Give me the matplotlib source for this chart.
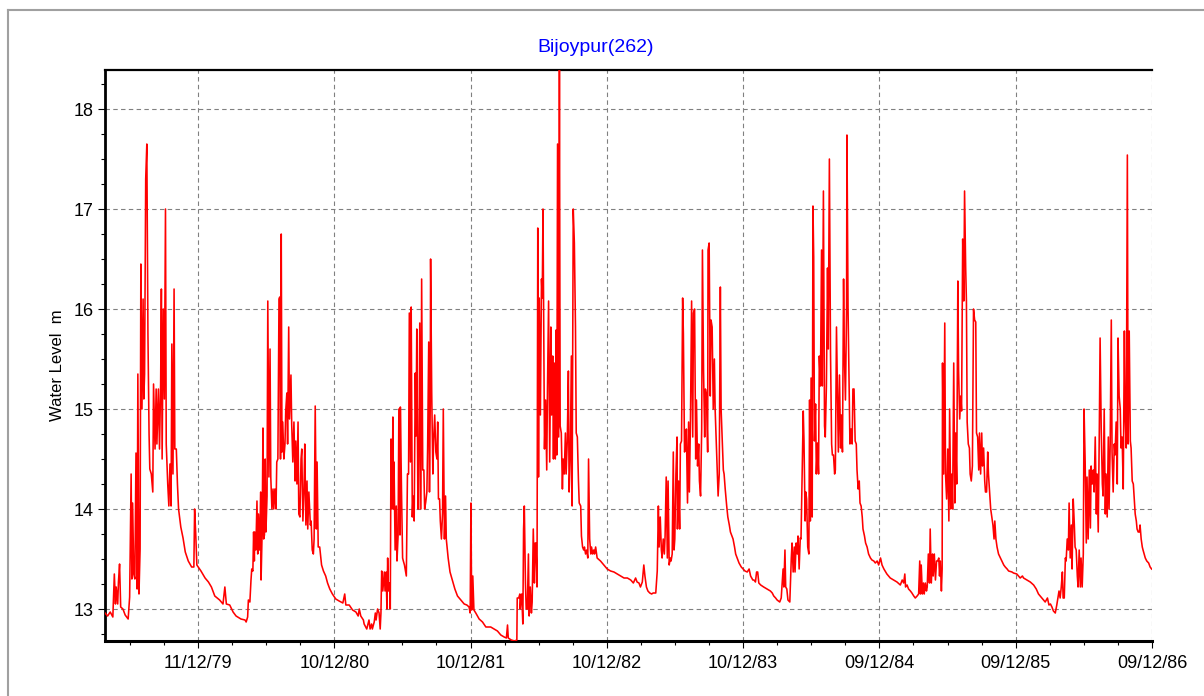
#!/usr/bin/env python3

# Water level hydrograph for station Bijoypur(262), 1979 - 1986.

import matplotlib
matplotlib.use('Agg')

import matplotlib.dates
import matplotlib.lines
import matplotlib.pyplot
import matplotlib.ticker
import numpy

TITLE = 'Bijoypur(262)'
Y_LABEL = 'Water Level  m'
START_DATE = '1979-04-06'

SEASON_1979 = [
    (0, 12.96), (7, 12.93), (14, 12.97), (21, 12.92), (25, 13.35), (28, 13.05), (30, 13.22), (34, 13.05),
    (36, 13.27), (39, 13.45), (42, 13.02), (48, 13.0), (54, 12.94), (62, 12.9), (66, 13.12), (70, 14.35),
    (72, 13.3), (74, 14.06), (77, 13.35), (80, 13.3), (83, 14.56), (86, 13.2), (88, 15.35), (91, 13.15),
    (94, 13.6), (96, 16.45), (99, 15.0), (102, 16.1), (104, 15.1), (106, 15.35), (109, 17.3), (112, 17.65),
    (115, 15.75), (118, 14.75), (120, 14.4), (124, 14.35), (128, 14.17), (130, 15.25), (134, 14.6), (137, 15.2),
    (139, 14.65), (143, 15.2), (146, 14.6), (149, 15.25), (151, 16.2), (153, 14.5), (156, 16.0), (159, 15.1),
    (162, 17.0), (164, 14.65), (168, 14.25), (171, 14.03), (174, 14.45), (177, 14.03), (179, 15.65), (182, 14.35),
    (185, 16.2), (187, 14.6), (191, 14.6), (194, 14.25), (197, 14.0), (203, 13.82), (209, 13.71), (215, 13.57),
    (223, 13.48), (232, 13.42), (238, 13.42), (240, 14.0), (243, 13.75), (246, 13.44), (257, 13.38), (268, 13.31),
    (277, 13.27), (285, 13.22), (294, 13.13), (307, 13.09), (316, 13.05), (321, 13.22), (325, 13.05), (334, 13.04),
    (343, 12.97),
]

SEASON_1980 = [
    (351, 12.93), (364, 12.9), (375, 12.89), (378, 12.87), (382, 12.92), (384, 13.09), (388, 13.07), (391, 13.29),
    (393, 13.4), (396, 13.38), (398, 13.77), (400, 13.48), (401, 13.77), (404, 13.59), (407, 14.08), (409, 13.55),
    (411, 13.95), (414, 13.59), (417, 14.17), (418, 13.29), (421, 13.8), (423, 14.81), (425, 13.7), (427, 13.74),
    (429, 14.5), (431, 13.77), (434, 14.13), (436, 16.08), (439, 14.32), (442, 15.6), (444, 14.32), (447, 14.0),
    (450, 14.2), (452, 14.0), (455, 14.2), (458, 14.0), (460, 14.47), (463, 14.5), (466, 16.1), (468, 16.12),
    (470, 14.5), (472, 16.75), (474, 14.57), (476, 14.87), (479, 14.5), (482, 14.65), (484, 14.98), (487, 15.16),
    (489, 14.65), (492, 15.82), (494, 14.9), (498, 15.34), (500, 14.85), (503, 14.47), (506, 14.87), (509, 14.28),
    (511, 14.68), (514, 14.25), (517, 14.87), (519, 13.95), (522, 13.92), (525, 14.5), (527, 14.6), (530, 13.88),
    (533, 14.2), (535, 14.65), (538, 13.84), (541, 14.28), (543, 13.8), (546, 14.17), (550, 13.84), (552, 13.88),
    (555, 13.59), (558, 13.55), (560, 13.7), (563, 15.03), (566, 13.8), (568, 14.47), (571, 13.62), (575, 13.62),
    (580, 13.44), (585, 13.38), (591, 13.33), (596, 13.26), (602, 13.2), (609, 13.15), (618, 13.1), (627, 13.08),
    (637, 13.06), (642, 13.15), (645, 13.04), (654, 13.04), (663, 12.99), (672, 12.97), (678, 12.93), (681, 13.0),
    (685, 12.93), (692, 12.89),
]

SEASON_1981 = [
    (694, 12.85), (701, 12.8), (707, 12.89), (710, 12.8), (714, 12.85), (716, 12.8), (721, 12.87), (724, 12.96),
    (726, 12.89), (730, 13.0), (734, 12.96), (737, 12.8), (739, 12.96), (741, 13.38), (744, 13.18), (748, 13.37),
    (750, 13.18), (753, 13.37), (755, 13.0), (757, 13.51), (759, 13.18), (762, 13.26), (764, 13.0), (766, 14.7),
    (769, 14.0), (771, 14.92), (773, 14.0), (774, 14.47), (777, 13.59), (780, 14.03), (782, 13.48), (785, 13.74),
    (787, 15.0), (790, 13.74), (791, 15.02), (794, 14.2), (797, 13.51), (799, 13.48), (802, 13.44), (805, 13.37),
    (807, 13.33), (810, 14.35), (813, 14.35), (815, 15.96), (818, 14.47), (820, 16.02), (823, 13.92), (825, 14.13),
    (828, 13.88), (831, 15.36), (833, 14.73), (835, 15.8), (838, 14.0), (840, 14.0), (843, 15.86), (846, 14.0),
    (848, 16.3), (851, 14.39), (854, 14.39), (856, 14.0), (859, 14.07), (862, 14.17), (864, 14.6), (867, 15.67),
    (869, 14.17), (871, 15.03), (872, 16.5), (875, 15.16), (878, 14.35), (880, 14.68), (883, 14.94), (886, 14.57),
    (889, 14.5), (891, 14.87), (893, 14.1), (896, 14.1), (898, 13.88), (901, 13.7), (904, 13.96), (906, 15.0),
    (909, 13.7), (912, 14.13), (914, 13.7), (919, 13.51), (924, 13.37), (930, 13.29), (937, 13.2), (944, 13.13),
    (953, 13.09), (962, 13.05), (969, 13.04), (975, 13.02), (978, 12.96), (980, 14.06), (982, 12.99), (985, 13.33),
    (988, 12.99), (993, 12.96), (1002, 12.9), (1011, 12.87), (1020, 12.82), (1033, 12.82),
]

SEASON_1982 = [
    (1042, 12.8), (1051, 12.78), (1060, 12.74), (1069, 12.72), (1075, 12.71), (1078, 12.84), (1080, 12.71),
    (1088, 12.69), (1097, 12.68), (1103, 12.69), (1104, 13.11), (1108, 13.11), (1111, 13.15), (1112, 13.0),
    (1114, 13.11), (1116, 13.15), (1119, 12.85), (1121, 13.8), (1123, 14.03), (1126, 13.26), (1128, 13.0),
    (1131, 13.0), (1134, 13.55), (1136, 12.93), (1139, 13.22), (1142, 12.96), (1144, 13.07), (1147, 13.8),
    (1150, 13.26), (1152, 13.66), (1154, 13.66), (1157, 13.22), (1159, 16.81), (1161, 14.32), (1163, 16.11),
    (1166, 14.94), (1169, 16.3), (1171, 16.11), (1173, 17.0), (1176, 15.23), (1177, 14.6), (1180, 15.09),
    (1183, 14.39), (1185, 15.2), (1188, 16.08), (1191, 14.47), (1194, 15.82), (1196, 14.94), (1199, 15.53),
    (1201, 14.5), (1203, 15.46), (1206, 14.5), (1208, 15.79), (1210, 14.54), (1212, 17.65), (1215, 14.72),
    (1217, 18.45), (1219, 14.83), (1222, 14.76), (1225, 14.2), (1227, 14.5), (1230, 14.35), (1233, 14.76),
    (1235, 14.35), (1238, 14.68), (1241, 15.38), (1243, 14.17), (1246, 14.5), (1249, 15.53), (1251, 14.03),
    (1254, 17.0), (1257, 16.66), (1260, 15.82), (1262, 14.76), (1265, 14.72), (1268, 14.28), (1270, 14.06),
    (1274, 14.03), (1276, 13.73), (1279, 13.62), (1282, 13.59), (1284, 13.62), (1287, 13.55), (1290, 13.59),
    (1293, 13.51), (1295, 14.5), (1298, 13.7), (1301, 13.55), (1303, 13.62), (1306, 13.55), (1309, 13.59),
    (1311, 13.55), (1314, 13.62), (1318, 13.51), (1327, 13.48), (1336, 13.44), (1345, 13.4), (1354, 13.38),
    (1363, 13.37), (1372, 13.35), (1381, 13.33), (1390, 13.31),
]

SEASON_1983 = [
    (1399, 13.31), (1408, 13.29), (1415, 13.26), (1421, 13.31), (1425, 13.27), (1430, 13.26), (1434, 13.22),
    (1439, 13.27), (1443, 13.44), (1446, 13.33), (1450, 13.22), (1454, 13.18), (1459, 13.16), (1464, 13.15),
    (1468, 13.16), (1475, 13.16), (1479, 13.38), (1482, 14.03), (1484, 13.62), (1487, 13.92), (1490, 13.59),
    (1492, 13.51), (1495, 13.7), (1498, 13.55), (1500, 13.73), (1503, 14.32), (1506, 13.51), (1508, 14.28),
    (1511, 13.44), (1514, 13.51), (1516, 13.48), (1519, 13.55), (1522, 14.57), (1524, 13.59), (1526, 13.7),
    (1529, 14.35), (1532, 14.72), (1533, 13.8), (1536, 14.28), (1539, 13.8), (1541, 14.65), (1544, 14.68),
    (1547, 16.11), (1549, 15.75), (1552, 14.57), (1555, 14.6), (1557, 14.8), (1560, 14.06), (1563, 14.87),
    (1565, 14.17), (1568, 14.9), (1571, 16.08), (1574, 14.72), (1576, 15.96), (1579, 16.0), (1582, 14.5),
    (1584, 15.09), (1587, 14.43), (1590, 14.65), (1592, 14.28), (1595, 14.13), (1598, 14.8), (1600, 16.59),
    (1603, 15.38), (1606, 14.72), (1608, 15.2), (1611, 15.13), (1614, 14.57), (1615, 16.59), (1618, 16.66),
    (1621, 15.13), (1623, 15.89), (1626, 15.82), (1629, 15.0), (1632, 15.5), (1634, 15.0), (1637, 14.68),
    (1640, 14.35), (1642, 14.13), (1645, 14.35), (1648, 16.22), (1650, 15.0), (1653, 14.68), (1656, 14.39),
    (1658, 14.35), (1661, 14.2), (1665, 14.03), (1668, 13.92), (1672, 13.84), (1675, 13.77), (1679, 13.73),
    (1682, 13.7), (1686, 13.62), (1689, 13.55), (1693, 13.51), (1698, 13.46), (1704, 13.42), (1709, 13.4),
    (1714, 13.38), (1720, 13.37), (1725, 13.4), (1729, 13.33), (1735, 13.29),
]

SEASON_1984 = [
    (1738, 13.29), (1742, 13.27), (1745, 13.37), (1748, 13.37), (1751, 13.26), (1756, 13.24), (1764, 13.22),
    (1773, 13.2), (1782, 13.18), (1787, 13.16), (1791, 13.13), (1796, 13.11), (1800, 13.09), (1807, 13.07),
    (1811, 13.11), (1813, 13.22), (1816, 13.4), (1818, 13.22), (1821, 13.59), (1823, 13.22), (1826, 13.2),
    (1829, 13.09), (1834, 13.07), (1838, 13.51), (1840, 13.66), (1843, 13.37), (1846, 13.62), (1848, 13.37),
    (1851, 13.66), (1854, 13.55), (1856, 13.73), (1859, 13.4), (1862, 13.71), (1864, 13.7), (1867, 14.35),
    (1870, 14.98), (1872, 14.68), (1875, 13.88), (1877, 14.17), (1879, 14.1), (1882, 13.62), (1885, 13.55),
    (1887, 15.09), (1889, 13.88), (1891, 15.31), (1894, 13.92), (1896, 17.03), (1898, 16.52), (1900, 14.68),
    (1903, 15.05), (1905, 14.35), (1908, 14.66), (1911, 14.35), (1913, 15.53), (1916, 15.23), (1919, 16.59),
    (1921, 15.23), (1924, 17.18), (1927, 14.83), (1929, 14.72), (1932, 15.23), (1935, 16.41), (1937, 15.6),
    (1940, 17.5), (1943, 15.57), (1946, 14.65), (1948, 14.54), (1951, 14.54), (1954, 14.35), (1956, 14.39),
    (1959, 15.82), (1962, 15.09), (1964, 14.57), (1967, 15.34), (1970, 14.61), (1972, 14.94), (1975, 14.57),
    (1978, 16.3), (1980, 15.57), (1983, 15.09), (1986, 16.0), (1987, 17.74), (1990, 16.0), (1993, 15.16),
    (1995, 14.65), (1998, 14.8), (2001, 14.65), (2003, 15.2), (2006, 15.2), (2009, 14.68), (2012, 14.65),
    (2014, 14.39), (2017, 14.2), (2020, 14.28), (2022, 14.06), (2025, 14.03), (2028, 13.92), (2030, 13.8),
    (2034, 13.73), (2037, 13.66), (2041, 13.62), (2045, 13.55), (2050, 13.51), (2054, 13.49), (2059, 13.48),
    (2063, 13.46), (2068, 13.48), (2072, 13.44), (2077, 13.51), (2081, 13.44), (2086, 13.4),
]

SEASON_1985 = [
    (2094, 13.35), (2103, 13.31), (2112, 13.29), (2121, 13.27), (2130, 13.24), (2135, 13.29), (2139, 13.26),
    (2142, 13.35), (2144, 13.22), (2148, 13.24), (2152, 13.2), (2157, 13.18), (2161, 13.16), (2166, 13.13),
    (2170, 13.11), (2175, 13.13), (2179, 13.15), (2182, 13.48), (2184, 13.15), (2186, 13.44), (2189, 13.15),
    (2192, 13.26), (2194, 13.15), (2197, 13.26), (2200, 13.18), (2202, 13.22), (2205, 13.55), (2208, 13.26),
    (2210, 13.8), (2213, 13.26), (2216, 13.55), (2218, 13.33), (2221, 13.55), (2224, 13.29), (2227, 13.48),
    (2230, 13.48), (2233, 13.51), (2235, 13.33), (2237, 13.48), (2240, 13.18), (2242, 13.4), (2243, 15.46),
    (2246, 14.35), (2249, 15.86), (2251, 14.35), (2254, 14.1), (2257, 14.6), (2260, 13.88), (2262, 15.0),
    (2265, 14.0), (2268, 14.35), (2270, 14.0), (2273, 15.46), (2276, 14.06), (2278, 14.76), (2281, 14.25),
    (2284, 16.28), (2286, 15.38), (2289, 14.9), (2292, 15.13), (2294, 14.98), (2297, 16.7), (2300, 16.08),
    (2302, 17.18), (2305, 16.41), (2307, 16.08), (2309, 14.87), (2312, 14.65), (2315, 14.61), (2317, 14.35),
    (2320, 14.28), (2323, 14.43), (2326, 16.0), (2329, 15.89), (2332, 15.87), (2334, 14.76), (2337, 14.72),
    (2340, 14.39), (2342, 14.76), (2345, 14.35), (2348, 14.76), (2350, 14.43), (2353, 14.61), (2356, 14.28),
    (2358, 14.17), (2361, 14.17), (2364, 14.57), (2366, 14.35), (2369, 14.17), (2372, 14.0), (2375, 13.92),
    (2378, 13.84), (2381, 13.7), (2383, 13.88), (2386, 13.7), (2389, 13.62), (2393, 13.55), (2398, 13.51),
    (2402, 13.48), (2407, 13.44), (2411, 13.42), (2416, 13.4), (2420, 13.38), (2429, 13.37),
]

SEASON_1986 = [
    (2433, 13.36), (2442, 13.35), (2451, 13.31), (2457, 13.33), (2460, 13.31), (2469, 13.29), (2478, 13.27),
    (2487, 13.24), (2494, 13.2), (2500, 13.15), (2509, 13.11), (2518, 13.07), (2524, 13.11), (2528, 13.04),
    (2532, 13.05), (2536, 13.02), (2540, 12.98), (2545, 12.96), (2549, 13.04), (2552, 13.11), (2555, 13.18),
    (2558, 13.11), (2561, 13.22), (2564, 13.37), (2566, 13.11), (2569, 13.11), (2572, 13.51), (2574, 13.48),
    (2577, 13.7), (2580, 13.59), (2582, 14.06), (2585, 13.51), (2588, 13.84), (2590, 13.4), (2593, 14.1),
    (2596, 13.84), (2598, 13.62), (2601, 13.59), (2604, 13.33), (2606, 13.22), (2609, 13.59), (2612, 13.22),
    (2614, 13.51), (2617, 13.22), (2620, 13.55), (2622, 15.0), (2625, 14.47), (2628, 13.66), (2630, 14.32),
    (2633, 13.7), (2636, 14.39), (2639, 13.81), (2641, 14.43), (2644, 14.25), (2647, 14.39), (2649, 14.17),
    (2652, 14.72), (2655, 13.95), (2657, 14.35), (2660, 13.77), (2663, 14.83), (2665, 15.71), (2668, 14.8),
    (2671, 14.25), (2673, 14.13), (2676, 15.0), (2679, 13.95), (2681, 14.35), (2684, 13.92), (2687, 14.72),
    (2689, 14.0), (2692, 14.65), (2695, 15.89), (2697, 14.57), (2700, 14.17), (2703, 14.65), (2705, 14.54),
    (2708, 14.87), (2711, 14.25), (2713, 15.71), (2716, 15.13), (2719, 15.0), (2721, 14.61), (2724, 14.72),
    (2727, 14.2), (2730, 15.78), (2732, 14.94), (2735, 14.61), (2738, 17.54), (2740, 14.65), (2743, 15.78),
    (2746, 14.68), (2748, 14.61), (2751, 14.28), (2754, 14.25), (2756, 14.13), (2759, 13.95), (2762, 13.88),
    (2764, 13.8), (2767, 13.77), (2770, 13.77), (2772, 13.84), (2775, 13.7), (2778, 13.62), (2780, 13.59),
    (2783, 13.55), (2786, 13.51), (2790, 13.48), (2795, 13.46), (2799, 13.42), (2803, 13.4),
]

SEASONS = [SEASON_1979, SEASON_1980, SEASON_1981, SEASON_1982,
           SEASON_1983, SEASON_1984, SEASON_1985, SEASON_1986]

TICK_DATES = ['1979-12-11', '1980-12-10', '1981-12-10', '1982-12-10',
              '1983-12-10', '1984-12-09', '1985-12-09', '1986-12-09']
Y_TICKS = [13, 14, 15, 16, 17, 18]
Y_RANGE = (12.68, 18.39)

WIDTH_PX = 1204
HEIGHT_PX = 696
DPI = 100

FONT = ['Liberation Sans', 'DejaVu Sans']
GRID_COLOR = '#808080'
FRAME_COLOR = '#a0a0a0'


def loadSeries():
    pairs = [pair for season in SEASONS for pair in season]
    days = numpy.array([day for day, _ in pairs], dtype = int)
    levels = numpy.array([level for _, level in pairs], dtype = float)

    dates = numpy.datetime64(START_DATE) + days.astype('timedelta64[D]')
    return matplotlib.dates.date2num(dates), levels, matplotlib.dates.date2num(numpy.datetime64(START_DATE))


def px(value, total):
    return value / total


def main():
    matplotlib.pyplot.rcParams['font.family'] = FONT

    dates, levels, startNum = loadSeries()
    majorTicks = matplotlib.dates.date2num(numpy.array(TICK_DATES, dtype = 'datetime64[D]'))

    figure = matplotlib.pyplot.figure(figsize = (WIDTH_PX / DPI, HEIGHT_PX / DPI), dpi = DPI)
    figure.patch.set_facecolor('white')

    # Grey window frame of the original screenshot.
    frameX = px(8, WIDTH_PX)
    frameY = 1.0 - px(10, HEIGHT_PX)
    figure.add_artist(matplotlib.lines.Line2D([frameX, frameX], [0.0, frameY], transform = figure.transFigure,
        color = FRAME_COLOR, linewidth = 1.5))
    figure.add_artist(matplotlib.lines.Line2D([frameX, 1.0], [frameY, frameY], transform = figure.transFigure,
        color = FRAME_COLOR, linewidth = 1.5))

    axis = figure.add_axes([px(105, WIDTH_PX), px(55, HEIGHT_PX), px(1047, WIDTH_PX), px(571, HEIGHT_PX)])

    axis.plot(dates, levels, color = '#ff0000', linewidth = 1.15, zorder = 3)

    axis.set_xlim(startNum, majorTicks[-1])
    axis.set_ylim(*Y_RANGE)

    quarter = (majorTicks[1] - majorTicks[0]) / 4.0
    minorTicks = majorTicks[0] + quarter * numpy.arange(-3, 4 * (len(majorTicks) - 1) + 1)
    minorTicks = minorTicks[(minorTicks > startNum) & (minorTicks <= majorTicks[-1])]

    axis.xaxis.set_major_locator(matplotlib.ticker.FixedLocator(majorTicks))
    axis.xaxis.set_minor_locator(matplotlib.ticker.FixedLocator(minorTicks))
    axis.xaxis.set_major_formatter(matplotlib.dates.DateFormatter('%d/%m/%y'))

    axis.set_yticks(Y_TICKS)
    axis.yaxis.set_minor_locator(matplotlib.ticker.MultipleLocator(0.25))

    axis.grid(True, which = 'major', color = GRID_COLOR, linestyle = (0, (4, 3)), linewidth = 0.8, zorder = 1)
    axis.set_axisbelow(True)

    axis.tick_params(which = 'major', direction = 'out', length = 5, width = 0.8, labelsize = 13, pad = 3)
    axis.tick_params(which = 'minor', direction = 'out', length = 3, width = 0.8)
    axis.tick_params(axis = 'x', which = 'major', pad = 5)

    axis.spines['right'].set_visible(False)
    axis.spines['left'].set_linewidth(2.0)
    axis.spines['bottom'].set_linewidth(2.2)
    axis.spines['top'].set_linewidth(1.6)

    figure.text(px(596, WIDTH_PX), 1.0 - px(48, HEIGHT_PX), TITLE, color = '#0000ff', fontsize = 14,
        ha = 'center', va = 'center')
    figure.text(px(57, WIDTH_PX), 1.0 - px(365, HEIGHT_PX), Y_LABEL, fontsize = 12, rotation = 90,
        ha = 'center', va = 'center')

    figure.savefig('out.png', dpi = DPI, facecolor = 'white')


if (__name__ == '__main__'):
    main()
